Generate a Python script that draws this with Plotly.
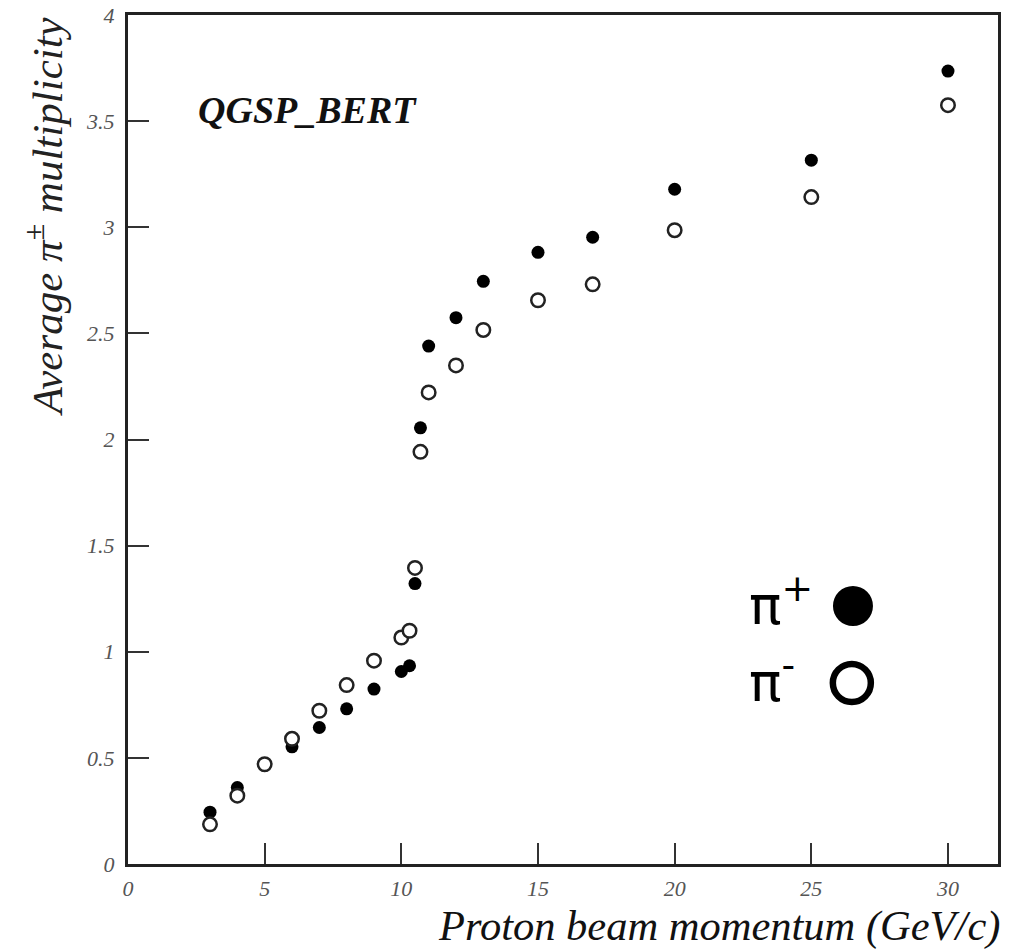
import plotly.graph_objects as go

# Proton beam momentum (GeV/c)
momentum = [3, 4, 5, 6, 7, 8, 9, 10, 10.3, 10.5, 10.7, 11, 12, 13, 15, 17, 20, 25, 30]

# Average multiplicities, QGSP_BERT
pi_plus = [0.244, 0.36, 0.464, 0.552, 0.643, 0.731, 0.824, 0.907, 0.934, 1.321,
           2.055, 2.44, 2.574, 2.745, 2.882, 2.953, 3.179, 3.316, 3.736]
pi_minus = [0.187, 0.322, 0.47, 0.59, 0.722, 0.843, 0.958, 1.067, 1.099, 1.395,
            1.942, 2.222, 2.349, 2.516, 2.656, 2.731, 2.986, 3.142, 3.575]

x_ticks = [0, 5, 10, 15, 20, 25, 30]
y_ticks = [0, 0.5, 1, 1.5, 2, 2.5, 3, 3.5, 4]
y_tick_text = ["0", "0.5", "1", "1.5", "2", "2.5", "3", "3.5", "4"]

serif = "Liberation Serif"

fig = go.Figure()
fig.add_trace(go.Scatter(
    x=momentum, y=pi_plus, mode="markers", name="π+",
    marker=dict(symbol="circle", size=13, color="black", line=dict(width=0)),
))
fig.add_trace(go.Scatter(
    x=momentum, y=pi_minus, mode="markers", name="π-",
    marker=dict(symbol="circle", size=13.5, color="white",
                line=dict(width=2.5, color="#222222")),
))

axis_common = dict(
    showgrid=False, zeroline=False, ticks="inside", ticklen=21, tickwidth=2,
    tickcolor="#333333", showline=True, linewidth=3, linecolor="#222222",
    mirror=True, automargin=False,
    tickfont=dict(family=serif, size=22, color="#555555", style="italic"),
)

fig.update_layout(
    width=1014, height=951,
    margin=dict(l=128, r=16, t=15, b=87, autoexpand=False),
    paper_bgcolor="white", plot_bgcolor="white",
    showlegend=False,
    xaxis=dict(range=[0, 31.83], tickvals=x_ticks, ticklabelstandoff=3, **axis_common),
    yaxis=dict(range=[0, 4], tickvals=y_ticks, ticktext=y_tick_text,
               ticklabelstandoff=6, **axis_common),
)

annotations = [
    # axis titles
    dict(text="Proton beam momentum (GeV/c)", xref="paper", yref="paper",
         x=1.003, y=-0.1025, xanchor="right", yanchor="bottom", showarrow=False,
         borderpad=0,
         font=dict(family=serif, size=42.5, color="#111111", style="italic")),
    dict(text="Average π<sup>±</sup> multiplicity", xref="paper", yref="paper",
         x=-0.097, y=1.0, xanchor="center", yanchor="top", textangle=-90,
         showarrow=False,
         font=dict(family=serif, size=43, color="#222222", style="italic")),
    # model label
    dict(text="<b>QGSP_BERT</b>", xref="paper", yref="paper",
         x=0.078, y=0.888, xanchor="left", yanchor="middle", showarrow=False,
         font=dict(family=serif, size=38, color="#111111", style="italic")),
    # legend labels
    dict(text="π<sup>+</sup>", xref="paper", yref="paper",
         x=0.711, y=0.309, xanchor="left", yanchor="middle", showarrow=False,
         font=dict(family="DejaVu Sans", size=54, color="black")),
    dict(text="π<sup>-</sup>", xref="paper", yref="paper",
         x=0.711, y=0.219, xanchor="left", yanchor="middle", showarrow=False,
         font=dict(family="DejaVu Sans", size=54, color="black")),
]
fig.update_layout(annotations=annotations)

# legend symbols
fig.add_shape(type="circle", xref="paper", yref="paper",
              xsizemode="pixel", ysizemode="pixel",
              xanchor=0.8333, yanchor=0.3039, x0=-20, x1=20, y0=-20, y1=20,
              fillcolor="black", line=dict(width=0))
fig.add_shape(type="circle", xref="paper", yref="paper",
              xsizemode="pixel", ysizemode="pixel",
              xanchor=0.832, yanchor=0.2132, x0=-19, x1=19, y0=-19, y1=19,
              fillcolor="white", line=dict(width=6.5, color="black"))

fig.write_html("out.html")
